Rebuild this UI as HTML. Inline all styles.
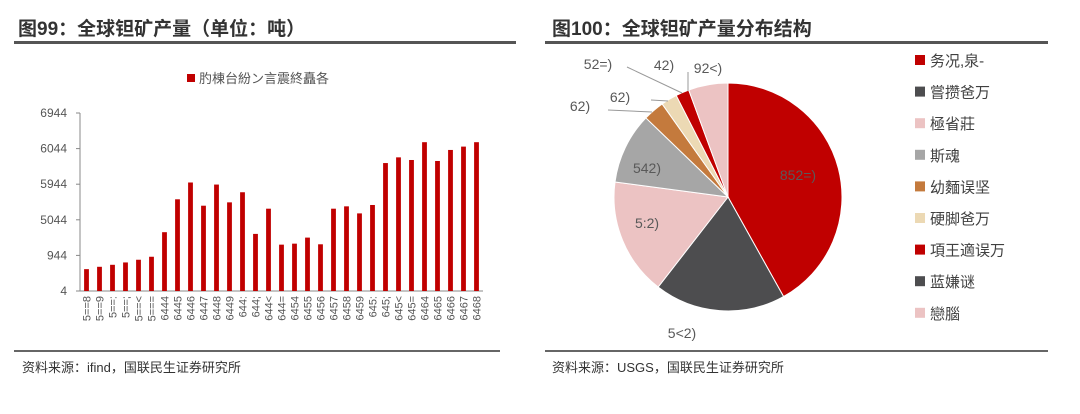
<!DOCTYPE html>
<html><head><meta charset="utf-8"><style>
body{margin:0;width:1080px;height:409px;background:#fff;overflow:hidden;font-family:"Liberation Sans","Noto Sans CJK SC",sans-serif;}
svg text{font-family:"Liberation Sans","Noto Sans CJK SC",sans-serif;}
</style></head><body>
<svg width="1080" height="409">
<text x="18" y="35" font-size="19" font-weight="bold" fill="#333">图99：全球钽矿产量（单位：吨）</text>
<rect x="14" y="41" width="502" height="3" fill="#555"/>
<text x="552" y="35" font-size="19" font-weight="bold" fill="#333">图100：全球钽矿产量分布结构</text>
<rect x="545" y="41" width="503" height="3" fill="#555"/>
<rect x="14" y="350" width="486" height="2" fill="#666"/>
<rect x="545" y="350" width="503" height="2" fill="#666"/>
<text x="22" y="372" font-size="13" fill="#333">资料来源：ifind，国联民生证券研究所</text>
<text x="552" y="372" font-size="13" fill="#333">资料来源：USGS，国联民生证券研究所</text>
<g id="bar"></g>
<g id="pie"></g>
</svg>
<script>
const categories=["5==8","5==9","5==:","5==;","5==<","5===","6444","6445","6446","6447","6448","6449","644:","644;","644<","644=","6454","6455","6456","6457","6458","6459","645:","645;","645<","645=","6464","6465","6466","6467","6468"];
const values=[3070,3400,3680,4010,4390,4810,8260,12880,15240,11980,14950,12450,13870,8020,11560,6510,6650,7500,6560,11560,11890,10900,12080,17970,18770,18400,20900,18260,19810,20280,20900];
const tickValues=[0,5000,10000,15000,20000,25000];
const tickLabels=["4","944","5044","5944","6044","6944"];
const pieValues=[41.9,18.6,16.6,10.1,3.0,2.3,1.9,0,5.6];
const pieNames=["务况,泉-","嘗攒爸万","極省莊","斯魂","幼麵误坚","硬脚爸万","項王適误万","蓝嫌谜","戀腦"];
const pieLabels=["852=)","5<2)","5:2)","542)","62)","62)","92<)","42)","52=)"];
const NS="http://www.w3.org/2000/svg";
function mk(p,t,a){const e=document.createElementNS(NS,t);for(const k in a)e.setAttribute(k,a[k]);p.appendChild(e);return e;}
const bg=document.getElementById('bar');
const x0=80,x1=483,yb=291,yt=113;
const ys=v=>yb-(v/25000)*(yb-yt);
const step=(x1-x0)/categories.length;
const xs=i=>x0+step*(i+0.5);
let ax=mk(bg,'path',{d:`M${x0} ${yt}V${yb}H${x1}`,stroke:'#888',fill:'none','stroke-width':1});

tickValues.forEach((v,i)=>{
  const l=mk(bg,'line',{x1:x0-4,x2:x0,y1:ys(v),y2:ys(v),stroke:'#888'});
  
  const t=mk(bg,'text',{x:x0-13,y:ys(v)+4,'font-size':12,fill:'#555','text-anchor':'end'});t.textContent=tickLabels[i];
  
});
values.forEach((v,i)=>{
  const r=mk(bg,'rect',{x:xs(i)-2.4,y:ys(v),width:4.8,height:yb-ys(v),fill:'#c00000'});
  
  const t=mk(bg,'text',{x:0,y:0,'font-size':11,fill:'#555','text-anchor':'end',transform:`translate(${xs(i)+4},${yb+5}) rotate(-90)`});t.textContent=categories[i];
  
});
const lr=mk(bg,'rect',{x:187,y:74,width:8,height:8,fill:'#c00000'});

const lt=mk(bg,'text',{x:199,y:83,'font-size':13,fill:'#555'});lt.textContent='肑棟台紛ン言震終矗各';


const pg=document.getElementById('pie');
const colors=["#c00000","#4d4d4f","#ecc3c3","#a6a6a6","#c47a3d","#ecd9b4","#c00000","#4d4d4f","#ecc3c3"];
const cx=728,cy=197,R=114;
const total=pieValues.reduce((a,b)=>a+b,0);
let acc=0;
const pt=(a,r)=>[cx+r*Math.sin(a),cy-r*Math.cos(a)];
pieValues.forEach((v,i)=>{
  const a0=acc/total*2*Math.PI;acc+=v;const a1=acc/total*2*Math.PI;
  if(v<=0)return;
  const p0=pt(a0,R),p1=pt(a1,R);
  const s=mk(pg,'path',{d:`M${cx} ${cy}L${p0[0]} ${p0[1]}A${R} ${R} 0 ${a1-a0>Math.PI?1:0} 1 ${p1[0]} ${p1[1]}Z`,fill:colors[i],stroke:'#fff','stroke-width':1});
  
});
const lpos=[[798,180],[682,338],[647,228],[647,173],[580,111],[620,102],[708,73],[664,70],[598,69]];
pieLabels.forEach((l,i)=>{
  const t=mk(pg,'text',{x:lpos[i][0],y:lpos[i][1],'font-size':14,fill:'#595959','text-anchor':'middle'});t.textContent=l;
  
});
[[608,110,652,112],[651,100,668,101],[627,67,682,93],[688,72,688,91]].forEach(c=>{
  const l=mk(pg,'path',{d:`M${c[0]} ${c[1]}L${c[2]} ${c[3]}`,stroke:'#999',fill:'none'});
  
});
pieNames.forEach((n,i)=>{
  const y=60+i*31.6;
  const r=mk(pg,'rect',{x:915,y:y-5,width:10,height:10,fill:colors[i]});
  
  const t=mk(pg,'text',{x:930,y:y+6,'font-size':15,fill:'#404040'});t.textContent=n;
  
});
</script>
</body></html>
